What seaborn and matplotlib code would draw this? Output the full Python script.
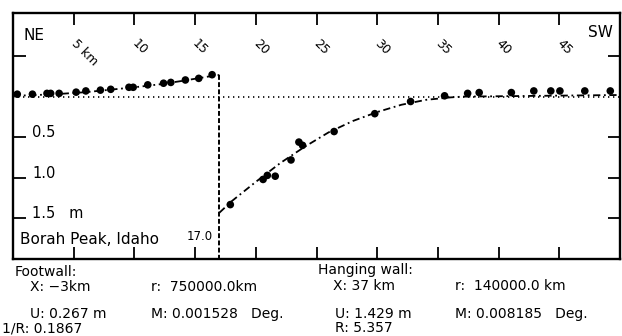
import matplotlib
matplotlib.use("Agg")
import matplotlib.pyplot as plt
import seaborn as sns
import pandas as pd

# ---- data (km, m) ----
fw_x = [0.35, 1.6, 2.8, 3.1, 3.8, 5.2, 6.0, 7.2, 8.05, 9.55, 9.9, 11.1, 12.4, 13.0, 14.2, 15.3, 16.4]
fw_y = [0.03, 0.03, 0.04, 0.04, 0.04, 0.055, 0.07, 0.08, 0.09, 0.115, 0.115, 0.145, 0.165, 0.175, 0.205, 0.225, 0.27]

hw_x = [17.9, 20.6, 20.95, 21.6, 22.9, 23.55, 23.85, 26.45, 29.8, 32.75, 35.55, 37.45, 38.4, 41.05, 42.9, 44.3, 45.05, 47.1, 49.2]
hw_y = [-1.33, -1.02, -0.97, -0.98, -0.78, -0.56, -0.60, -0.43, -0.21, -0.06, 0.01, 0.04, 0.05, 0.05, 0.07, 0.07, 0.07, 0.07, 0.07]

fw_curve_x = [0, 2, 4, 6, 8, 10, 12, 14, 16, 17]
fw_curve_y = [0.01, 0.02, 0.035, 0.055, 0.085, 0.115, 0.15, 0.195, 0.245, 0.267]

hw_curve_x = [17, 18, 20, 22, 24, 26, 28, 30, 32, 34, 36, 37, 50]
hw_curve_y = [-1.43, -1.29, -1.05, -0.82, -0.62, -0.44, -0.30, -0.19, -0.10, -0.04, -0.01, 0.0, 0.02]

fault_x = 17.0
fault_top = 0.267
x_ticks = [5, 10, 15, 20, 25, 30, 35, 40, 45]
x_tick_labels = ["5 km", "10", "15", "20", "25", "30", "35", "40", "45"]
y_ticks = [0.5, -0.5, -1.0, -1.5]
y_tick_labels = {-0.5: "0.5", -1.0: "1.0", -1.5: "1.5   m"}
x_lim = (0, 50)
y_lim = (-2.0, 1.03)

sns.set_style("white")
plt.rcParams["font.family"] = ["DejaVu Sans"]
plt.rcParams["text.color"] = "black"

W, H = 622, 336
fig = plt.figure(figsize=(W / 100, H / 100), dpi=100)
ax = fig.add_axes([13 / W, (H - 259) / H, (620 - 13) / W, (259 - 13) / H])

# zero reference line
zero = pd.DataFrame({"x": list(x_lim), "y": [0, 0]})
sns.lineplot(data=zero, x="x", y="y", ax=ax, color="black", lw=1.2,
             linestyle=(0, (0.8, 2.2)), sort=False, estimator=None)

# fault line
fault = pd.DataFrame({"x": [fault_x, fault_x], "y": [fault_top, y_lim[0]]})
sns.lineplot(data=fault, x="x", y="y", ax=ax, color="black", lw=1.4,
             linestyle=(0, (2.5, 1.2)), sort=False, estimator=None)

# fit curves
fwc = pd.DataFrame({"x": fw_curve_x, "y": fw_curve_y})
sns.lineplot(data=fwc, x="x", y="y", ax=ax, color="black", lw=1.3,
             linestyle=(0, (4, 2, 1, 2)), sort=False, estimator=None)
hwc = pd.DataFrame({"x": hw_curve_x, "y": hw_curve_y})
sns.lineplot(data=hwc, x="x", y="y", ax=ax, color="black", lw=1.3,
             linestyle=(0, (4, 2, 1, 2)), sort=False, estimator=None)

# data points
pts = pd.DataFrame({"x": fw_x + hw_x, "y": fw_y + hw_y})
sns.scatterplot(data=pts, x="x", y="y", ax=ax, color="black", s=30,
                edgecolor="none", zorder=5)

ax.set_xlim(*x_lim)
ax.set_ylim(*y_lim)
ax.set_xlabel("")
ax.set_ylabel("")

ax.set_xticks(x_ticks)
ax.set_xticklabels([])
ax.set_yticks(y_ticks)
ax.set_yticklabels([])
ax.tick_params(axis="x", which="both", direction="in", top=True, bottom=True,
               length=8.5, width=1.3, color="black")
ax.tick_params(axis="y", which="both", direction="in", left=True, right=True,
               length=9, width=1.3, color="black")
for sp in ax.spines.values():
    sp.set_linewidth(1.7)
    sp.set_color("black")

# top rotated tick labels
for t, lab in zip(x_ticks, x_tick_labels):
    ax.text(t - 0.25, 0.874, lab, transform=ax.get_xaxis_transform(),
            rotation=-45, rotation_mode="anchor", ha="left", va="baseline",
            fontsize=9, color="black")

# y tick labels inside
for v, lab in y_tick_labels.items():
    ax.text(1.6, v, lab, ha="left", va="baseline", fontsize=10.5, color="black")

ax.text(0.018, 0.89, "NE", transform=ax.transAxes, fontsize=11, ha="left", va="baseline", color="black")
ax.text(0.947, 0.902, "SW", transform=ax.transAxes, fontsize=11, ha="left", va="baseline", color="black")
ax.text(0.6, -1.82, "Borah Peak, Idaho", fontsize=11, ha="left", va="baseline", color="black")
ax.text(fault_x - 0.55, -1.77, "17.0", fontsize=8.5, ha="right", va="baseline", color="black")


def ftext(x, y, s, **kw):
    fig.text(x / W, 1 - y / H, s, ha="left", va="baseline", fontsize=10,
             color="black", **kw)


ftext(15, 276, "Footwall:")
ftext(30, 291, "X: \u22123km")
ftext(151, 291, "r:  750000.0km")
ftext(30, 318, "U: 0.267 m")
ftext(151, 318, "M: 0.001528   Deg.")
ftext(2, 333, "1/R: 0.1867")

ftext(318, 274, "Hanging wall:")
ftext(333, 290, "X: 37 km")
ftext(455, 290, "r:  140000.0 km")
ftext(335, 318, "U: 1.429 m")
ftext(455, 318, "M: 0.008185   Deg.")
ftext(335, 332, "R: 5.357")

fig.savefig("out.png", dpi=100, facecolor="white")
